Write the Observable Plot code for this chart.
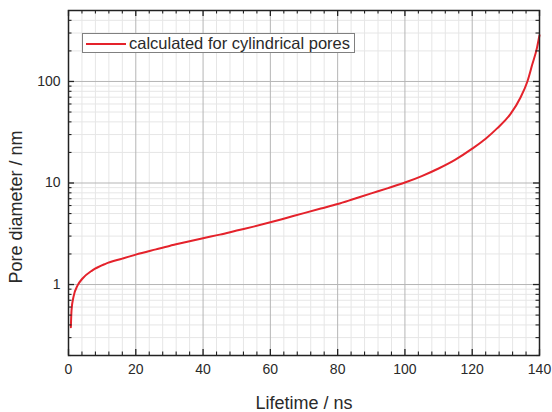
<!DOCTYPE html>
<html>
<head>
<meta charset="utf-8">
<script src="https://cdn.jsdelivr.net/npm/d3@7"></script>
<script src="https://cdn.jsdelivr.net/npm/@observablehq/plot@0.6"></script>
<style>
  html, body { margin: 0; padding: 0; background: #fff; }
  #wrap { position: relative; width: 552px; height: 412px; font-family: "Liberation Sans", Arial, sans-serif; }
  #legend { position: absolute; left: 82px; top: 33px; width: 273px; height: 20px; border: 1px solid #808080; background: #fff; box-sizing: border-box; }
  #legend .swatch { position: absolute; left: 3px; top: 9px; width: 40px; height: 0; border-top: 2px solid #e4222b; }
  #legend .lbl { position: absolute; left: 46px; top: -1px; font-size: 16.5px; color: #2a2a2a; white-space: nowrap; line-height: 20px; }
</style>
</head>
<body>
<div id="wrap"></div>
<script>
// Lifetime (ns) and pore diameter (nm)
const lifetime = [0.7, 0.9, 1.5, 2.7, 4.1, 7.1, 11, 16, 20, 26, 30, 35, 40, 45, 50, 55, 60, 65, 70, 75, 80, 85, 90, 95, 100, 105, 110, 115, 120, 124, 127.4, 131.4, 134.4, 136.4, 137.8, 139.3, 139.8, 140];
const diameter = [0.38, 0.56, 0.76, 0.98, 1.14, 1.38, 1.6, 1.8, 1.97, 2.22, 2.4, 2.62, 2.86, 3.1, 3.4, 3.72, 4.1, 4.55, 5.05, 5.6, 6.2, 7.0, 7.9, 8.9, 10.1, 11.7, 13.9, 17.0, 21.8, 27.3, 34.5, 48, 70, 100, 145, 218, 265, 285];
const seriesName = "calculated for cylindrical pores";

const xTicks = [0, 20, 40, 60, 80, 100, 120, 140];
const xMinor = d3.range(0, 141, 4).filter(d => d % 20 !== 0);
const yTicks = [1, 10, 100];
const yMinor = [0.2, 0.3, 0.4, 0.5, 0.6, 0.7, 0.8, 0.9, 2, 3, 4, 5, 6, 7, 8, 9, 20, 30, 40, 50, 60, 70, 80, 90, 200, 300, 400];
const xLabel = "Lifetime / ns";
const yLabel = "Pore diameter / nm";

const data = lifetime.map((x, i) => ({x, y: diameter[i]}));

const W = 552, H = 412, mL = 68, mR = 13, mT = 10, mB = 57;
const fw = W - mL - mR, fh = H - mT - mB;
const maj = 6, mnr = 3.5;

const chart = Plot.plot({
  width: W, height: H,
  marginLeft: mL, marginRight: mR, marginTop: mT, marginBottom: mB,
  style: {fontFamily: "Liberation Sans, Arial, sans-serif", fontSize: "14px", color: "#2a2a2a", background: "#fff"},
  x: {domain: [0, 140]},
  y: {type: "log", domain: [0.2, 500]},
  marks: [
    Plot.ruleX(xMinor, {stroke: "#e6e6e6", strokeWidth: 1}),
    Plot.ruleY(yMinor, {stroke: "#e6e6e6", strokeWidth: 1}),
    Plot.ruleX(xTicks.slice(1, -1), {stroke: "#b5b5b5", strokeWidth: 1}),
    Plot.ruleY(yTicks, {stroke: "#b5b5b5", strokeWidth: 1}),
    Plot.line(data, {x: "x", y: "y", stroke: "#e4222b", strokeWidth: 2, curve: "monotone-x"}),
    // inward ticks, bottom & top
    Plot.ruleX(xTicks, {insetTop: fh - maj, stroke: "#222", strokeWidth: 1.3}),
    Plot.ruleX(xTicks, {insetBottom: fh - maj, stroke: "#222", strokeWidth: 1.3}),
    Plot.ruleX(xMinor, {insetTop: fh - mnr, stroke: "#222", strokeWidth: 1.1}),
    Plot.ruleX(xMinor, {insetBottom: fh - mnr, stroke: "#222", strokeWidth: 1.1}),
    // inward ticks, left & right
    Plot.ruleY(yTicks, {insetRight: fw - maj, stroke: "#222", strokeWidth: 1.3}),
    Plot.ruleY(yTicks, {insetLeft: fw - maj, stroke: "#222", strokeWidth: 1.3}),
    Plot.ruleY(yMinor, {insetRight: fw - mnr, stroke: "#222", strokeWidth: 1.1}),
    Plot.ruleY(yMinor, {insetLeft: fw - mnr, stroke: "#222", strokeWidth: 1.1}),
    Plot.frame({stroke: "#222", strokeWidth: 1.5}),
    Plot.axisX({ticks: xTicks, tickSize: 0, tickPadding: 9, tickFormat: d => String(d), label: null, fontSize: 14}),
    Plot.axisY({ticks: yTicks, tickSize: 0, tickPadding: 8, tickFormat: d => String(d), label: null, fontSize: 14}),
    Plot.text([xLabel], {frameAnchor: "bottom", dy: 41, lineAnchor: "top", fontSize: 18, fill: "#2a2a2a"}),
    Plot.text([yLabel], {frameAnchor: "left", textAnchor: "middle", dx: -52, dy: 24, rotate: -90, fontSize: 18, fill: "#2a2a2a"})
  ]
});

const wrap = document.getElementById("wrap");
wrap.appendChild(chart);
const leg = document.createElement("div");
leg.id = "legend";
leg.innerHTML = '<div class="swatch"></div><div class="lbl"></div>';
leg.querySelector(".lbl").textContent = seriesName;
wrap.appendChild(leg);
</script>
</body>
</html>
